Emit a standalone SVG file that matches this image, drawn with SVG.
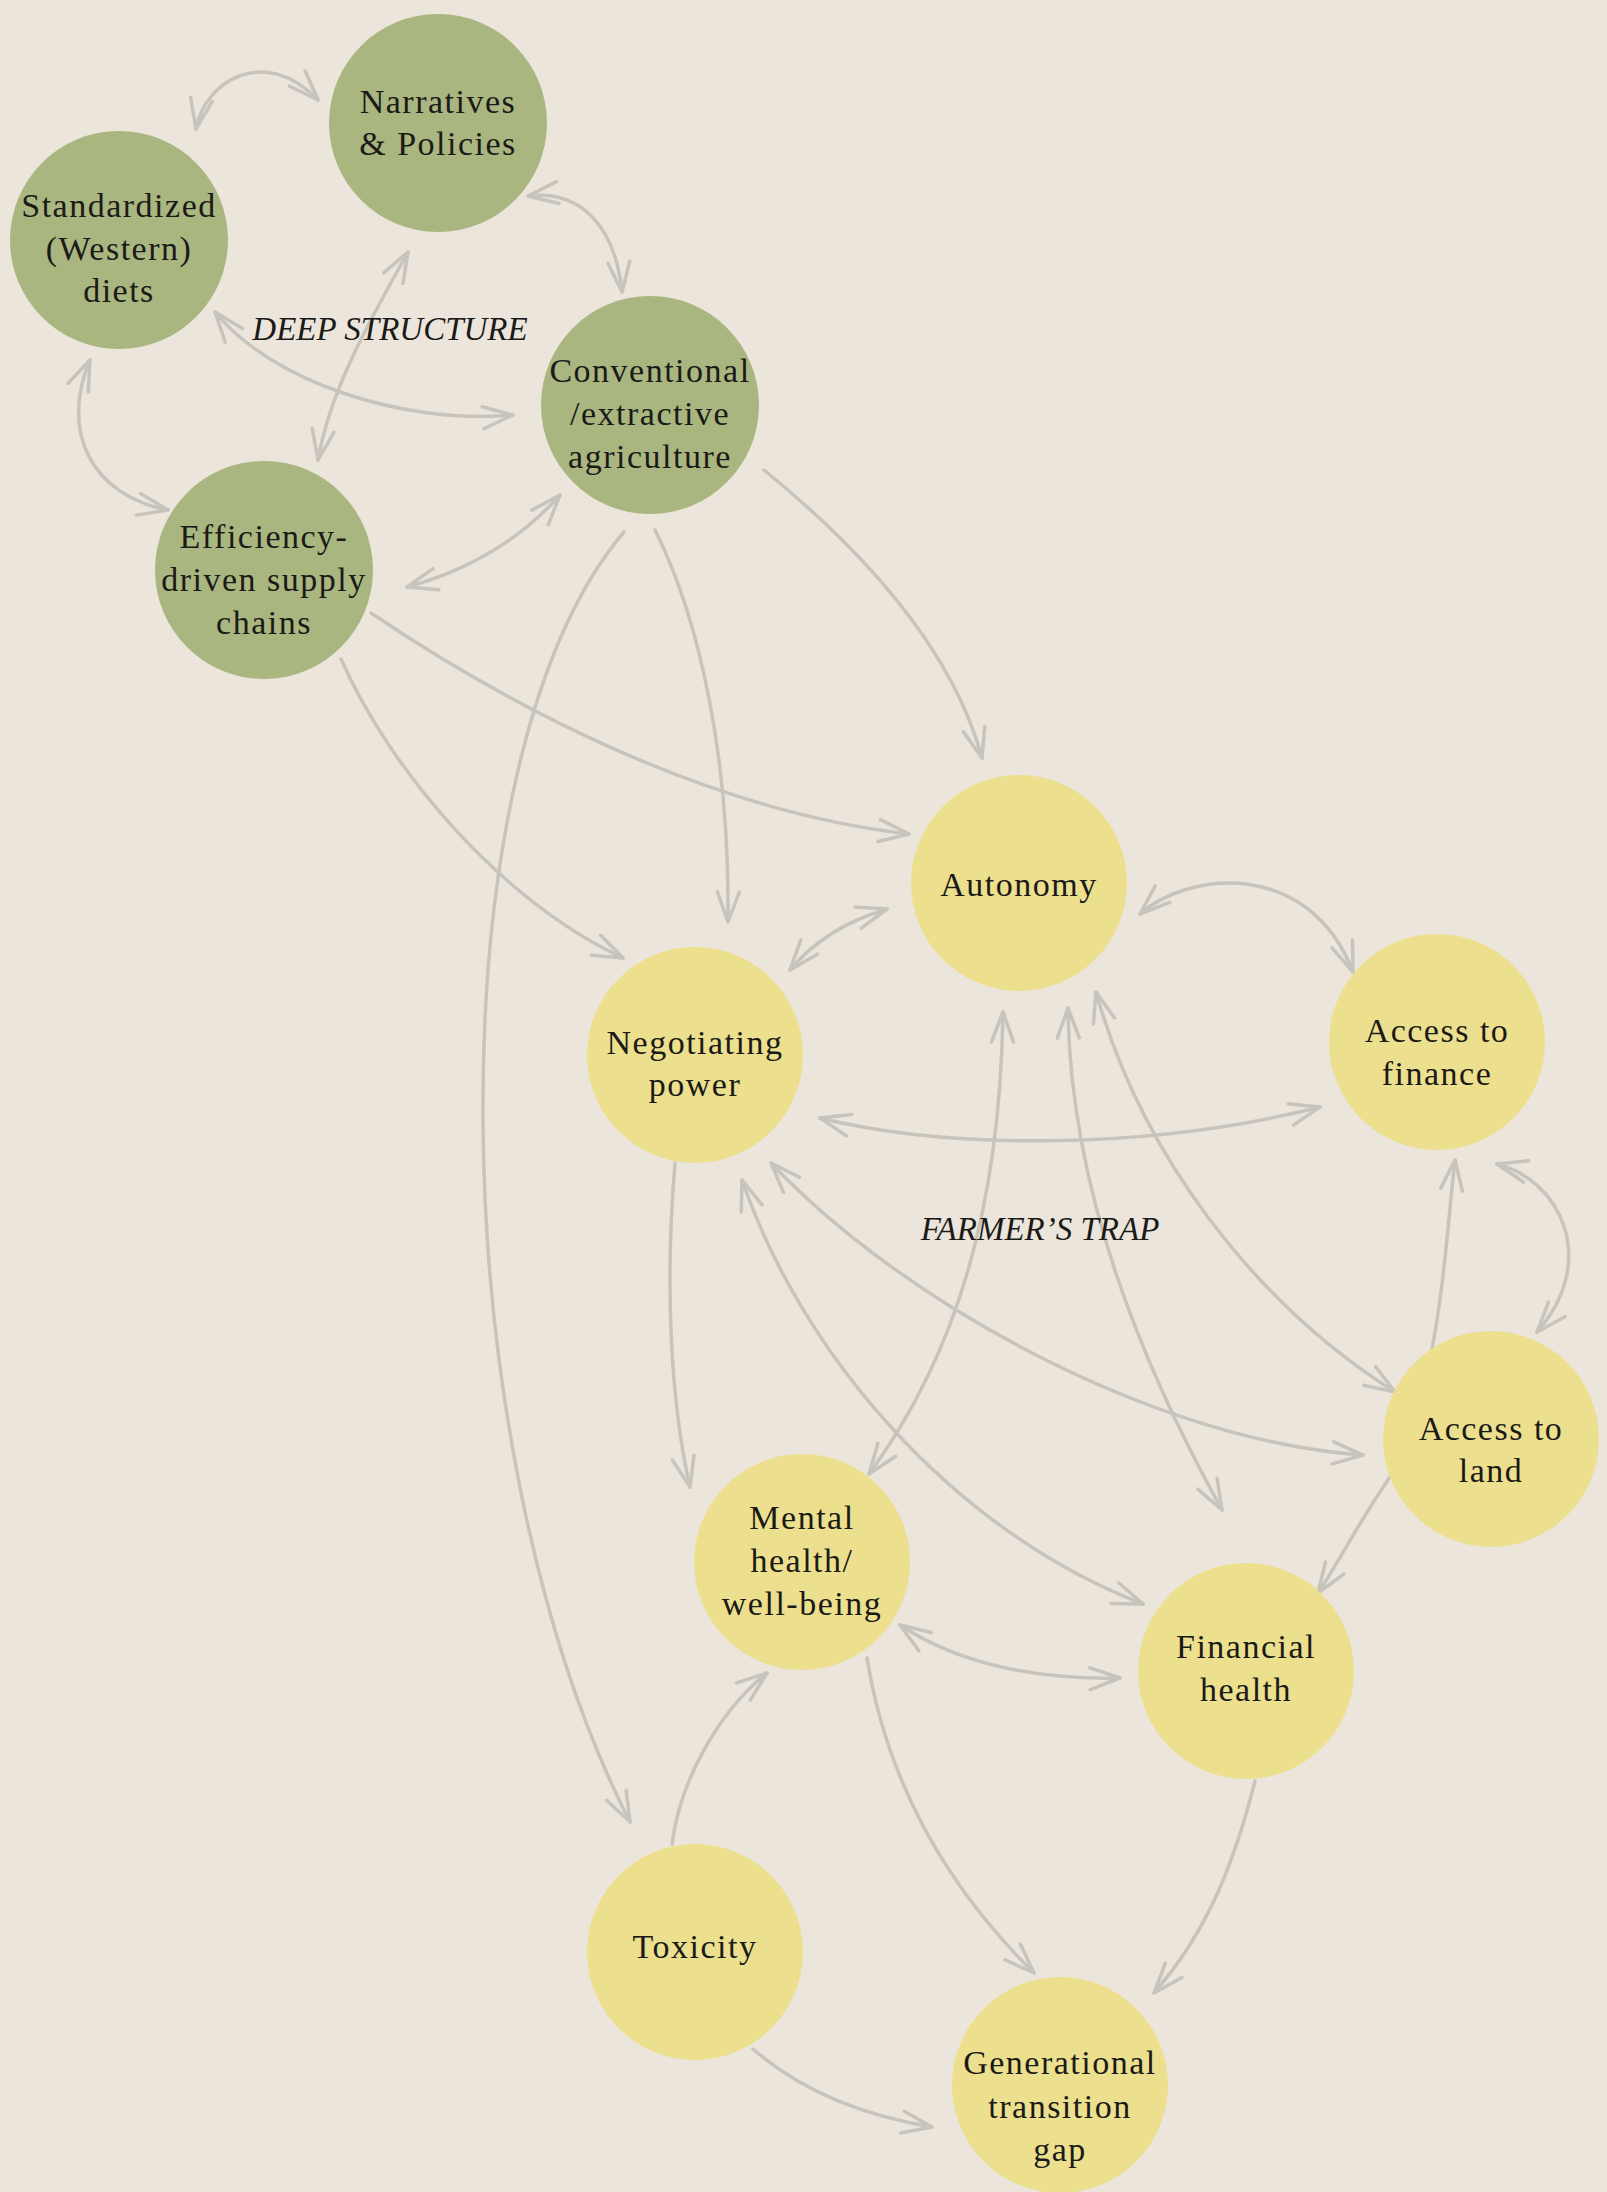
<svg xmlns="http://www.w3.org/2000/svg" width="1607" height="2192" viewBox="0 0 1607 2192">
<style>
.bg{fill:#ebe5dc}
.deep{fill:#a9b67f}
.trap{fill:#ece08f}
.c{fill:none;stroke:#c7c4bc;stroke-width:3.5;stroke-linecap:round;stroke-linejoin:round}
.one{marker-end:url(#ah)}
.two{marker-start:url(#ah);marker-end:url(#ah)}
.t{font-family:"Liberation Serif","Times New Roman",serif;font-size:34px;letter-spacing:1.5px;fill:#1b1a17;text-anchor:middle}
.lab{font-family:"Liberation Serif","Times New Roman",serif;font-size:33px;font-style:italic;fill:#1b1a17;text-anchor:middle}
</style>
<defs>
<marker id="ah" viewBox="-34 -14 38 28" refX="0" refY="0" markerWidth="38" markerHeight="28" markerUnits="userSpaceOnUse" orient="auto-start-reverse">
<path d="M-30,-11 L0,0 L-30,11" fill="none" stroke="#c7c4bc" stroke-width="3.5" stroke-linecap="round" stroke-linejoin="round"/>
</marker>
</defs>
<rect class="bg" x="0" y="0" width="1607" height="2192"/>
<g id="connectors">
<path class="c two" d="M196,129 C205,80 265,45 318,100"/>
<path class="c two" d="M528,196 C580,190 615,225 622,292"/>
<path class="c two" d="M408,252 C370,320 330,390 318,460"/>
<path class="c two" d="M215,312 C270,380 400,425 513,415"/>
<path class="c two" d="M90,360 C60,430 90,495 168,510"/>
<path class="c two" d="M407,587 C470,570 520,540 560,495"/>
<path class="c one" d="M764,470 C850,540 950,640 982,758"/>
<path class="c one" d="M655,530 C700,620 730,760 728,922"/>
<path class="c one" d="M624,532 C430,760 440,1450 630,1822"/>
<path class="c one" d="M371,613 C500,700 700,810 909,834"/>
<path class="c one" d="M341,659 C390,770 500,900 623,958"/>
<path class="c two" d="M887,909 C850,920 815,940 790,970"/>
<path class="c two" d="M1140,914 C1190,870 1310,860 1353,972"/>
<path class="c two" d="M820,1118 C950,1150 1150,1150 1320,1107"/>
<path class="c one" d="M675,1163 C665,1280 670,1400 690,1487"/>
<path class="c two" d="M1003,1012 C1000,1200 960,1350 869,1474"/>
<path class="c two" d="M1068,1008 C1070,1200 1150,1380 1222,1510"/>
<path class="c two" d="M1096,992 C1140,1150 1250,1300 1395,1392"/>
<path class="c two" d="M771,1163 C900,1300 1150,1440 1363,1455"/>
<path class="c two" d="M742,1180 C800,1350 950,1530 1143,1604"/>
<path class="c two" d="M1497,1164 C1560,1180 1600,1260 1537,1332"/>
<path class="c one" d="M1432,1349 C1445,1280 1448,1220 1455,1160"/>
<path class="c one" d="M1390,1477 C1360,1520 1340,1560 1318,1593"/>
<path class="c two" d="M900,1625 C960,1665 1040,1680 1120,1678"/>
<path class="c one" d="M867,1658 C890,1800 960,1900 1034,1973"/>
<path class="c one" d="M1255,1781 C1230,1880 1200,1940 1154,1993"/>
<path class="c one" d="M672,1844 C680,1780 720,1710 767,1673"/>
<path class="c one" d="M753,2049 C800,2090 860,2115 932,2127"/>
</g>
<g id="node-narratives"><circle class="deep" cx="438" cy="123" r="109"/><text class="t" x="438" y="113">Narratives</text><text class="t" x="438" y="155">&amp; Policies</text></g>
<g id="node-diets"><circle class="deep" cx="119" cy="240" r="109"/><text class="t" x="119" y="217">Standardized</text><text class="t" x="119" y="260">(Western)</text><text class="t" x="119" y="302">diets</text></g>
<g id="node-conventional"><circle class="deep" cx="650" cy="405" r="109"/><text class="t" x="650" y="382">Conventional</text><text class="t" x="650" y="425">/extractive</text><text class="t" x="650" y="468">agriculture</text></g>
<g id="node-efficiency"><circle class="deep" cx="264" cy="570" r="109"/><text class="t" x="264" y="548">Efficiency-</text><text class="t" x="264" y="591">driven supply</text><text class="t" x="264" y="634">chains</text></g>
<g id="node-autonomy"><circle class="trap" cx="1019" cy="883" r="108"/><text class="t" x="1019" y="896">Autonomy</text></g>
<g id="node-finance"><circle class="trap" cx="1437" cy="1042" r="108"/><text class="t" x="1437" y="1042">Access to</text><text class="t" x="1437" y="1085">finance</text></g>
<g id="node-negotiating"><circle class="trap" cx="695" cy="1055" r="108"/><text class="t" x="695" y="1054">Negotiating</text><text class="t" x="695" y="1096">power</text></g>
<g id="node-land"><circle class="trap" cx="1491" cy="1439" r="108"/><text class="t" x="1491" y="1440">Access to</text><text class="t" x="1491" y="1482">land</text></g>
<g id="node-mental"><circle class="trap" cx="802" cy="1562" r="108"/><text class="t" x="802" y="1529">Mental</text><text class="t" x="802" y="1572">health/</text><text class="t" x="802" y="1615">well-being</text></g>
<g id="node-financial"><circle class="trap" cx="1246" cy="1671" r="108"/><text class="t" x="1246" y="1658">Financial</text><text class="t" x="1246" y="1701">health</text></g>
<g id="node-toxicity"><circle class="trap" cx="695" cy="1952" r="108"/><text class="t" x="695" y="1958">Toxicity</text></g>
<g id="node-generational"><circle class="trap" cx="1060" cy="2085" r="108"/><text class="t" x="1060" y="2074">Generational</text><text class="t" x="1060" y="2118">transition</text><text class="t" x="1060" y="2161">gap</text></g>
<g id="labels"><text class="lab" x="390" y="340">DEEP STRUCTURE</text><text class="lab" x="1040" y="1240">FARMER’S TRAP</text></g>
</svg>
